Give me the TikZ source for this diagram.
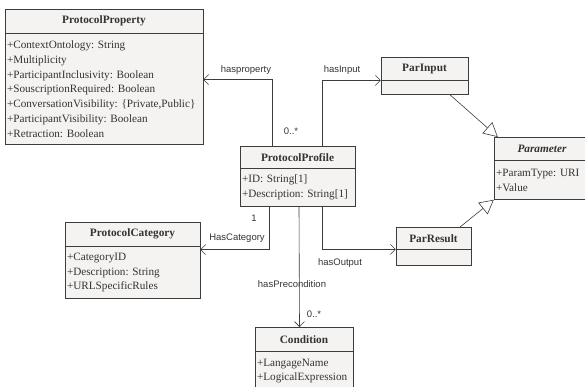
\documentclass[tikz,border=0pt]{standalone}
\usepackage{fontspec}
\setmainfont{Liberation Serif}
\newfontfamily\labelfont{Liberation Sans}
\usetikzlibrary{arrows.meta}
\definecolor{boxfill}{HTML}{F4F3F1}
\definecolor{boxline}{HTML}{3C3C3C}
\definecolor{textgray}{HTML}{333333}
\frenchspacing

\begin{document}
\begin{tikzpicture}[x=1pt, y=-1pt,
    classhead/.style={draw=boxline, fill=boxfill, anchor=north, inner sep=0pt, text=textgray,
        font=\fontsize{11.3}{12}\selectfont\bfseries},
    classbody/.style={draw=boxline, fill=boxfill, anchor=north, inner xsep=2pt, inner ysep=0pt,
        align=left, text=textgray, font=\fontsize{11.2}{14.7}\selectfont},
    assoc/.style={draw=boxline, line width=0.6pt, -{Straight Barb[length=5pt, width=10pt]}},
    gen/.style={draw=boxline, line width=0.6pt, -{Triangle[open, length=14pt, width=15pt, fill=white]}},
    lbl/.style={font=\labelfont\fontsize{9.5}{11}\selectfont, text=textgray, inner sep=0pt}]
    \useasboundingbox (0,0) rectangle (585,387);

    % Classes
    \node[classhead, minimum width=198pt, minimum height=24pt] (prophead) at (104,9) {ProtocolProperty};
    \node[classbody, text width=194pt, minimum height=111pt] (propbody) at (prophead.south)
        {+ContextOntology: String\\+Multiplicity\\+ParticipantInclusivity: Boolean\\+SouscriptionRequired: Boolean\\+ConversationVisibility: \{Private,Public\}\\+ParticipantVisibility: Boolean\\+Retraction: Boolean};

    \node[classhead, minimum width=115pt, minimum height=22pt] (profhead) at (297.5,146) {ProtocolProfile};
    \node[classbody, text width=111pt, minimum height=38pt] (profbody) at (profhead.south)
        {+ID: String[1]\\+Description: String[1]};

    \node[classhead, minimum width=87pt, minimum height=23pt] (parinhead) at (424.5,57) {ParInput};
    \node[classbody, text width=83pt, minimum height=14pt] (parinbody) at (parinhead.south) {};

    \node[classhead, minimum width=96pt, minimum height=23pt, font=\fontsize{11.3}{12}\selectfont\bfseries\itshape] (parhead) at (542,137) {Parameter};
    \node[classbody, text width=92pt, minimum height=39pt] (parbody) at (parhead.south)
        {+ParamType: URI\\+Value};

    \node[classhead, minimum width=75pt, minimum height=22pt] (parreshead) at (433.5,227) {ParResult};
    \node[classbody, text width=71pt, minimum height=16pt] (parresbody) at (parreshead.south) {};

    \node[classhead, minimum width=135pt, minimum height=24pt] (cathead) at (132.5,222) {ProtocolCategory};
    \node[classbody, text width=131pt, minimum height=52pt] (catbody) at (cathead.south)
        {+CategoryID\\+Description: String\\+URLSpecificRules};

    \node[classhead, minimum width=98pt, minimum height=24pt] (condhead) at (304,327) {Condition};
    \node[classbody, text width=94pt, minimum height=39pt] (condbody) at (condhead.south)
        {+LangageName\\+LogicalExpression};

    % Associations
    \draw[assoc] ([xshift=-25.5pt]profhead.north) |- ([yshift=9.5pt]propbody.east);
    \draw[assoc] ([xshift=24.5pt]profhead.north) |- (parinhead.south west);
    \draw[assoc] ([xshift=-28.5pt]profbody.south) |- ([yshift=23pt]catbody.east);
    \draw[assoc] ([xshift=1.5pt]profbody.south) -- ([xshift=-4.5pt]condhead.north);
    \draw[assoc] ([xshift=24.5pt]profbody.south) |- (parreshead.south west);

    % Generalizations
    \draw[gen] ([xshift=25.5pt]parinbody.south) -- ([xshift=4pt]parhead.north west);
    \draw[gen] ([xshift=26.5pt]parreshead.north) -- (parbody.south west);

    % Labels
    \node[lbl] (lprop) at (246,70) {hasproperty};
    \node[lbl] (lin) at (342,70) {hasInput};
    \node[lbl] (mprop) at (291,131) {0..*};
    \node[lbl] (lcat) at (237,238) {HasCategory};
    \node[lbl] (mcat) at (254,218) {1};
    \node[lbl] (lout) at (340,263) {hasOutput};
    \node[lbl] (lpre) at (292,284) {hasPrecondition};
    \node[lbl] (mpre) at (314,314) {0..*};
\end{tikzpicture}
\end{document}
